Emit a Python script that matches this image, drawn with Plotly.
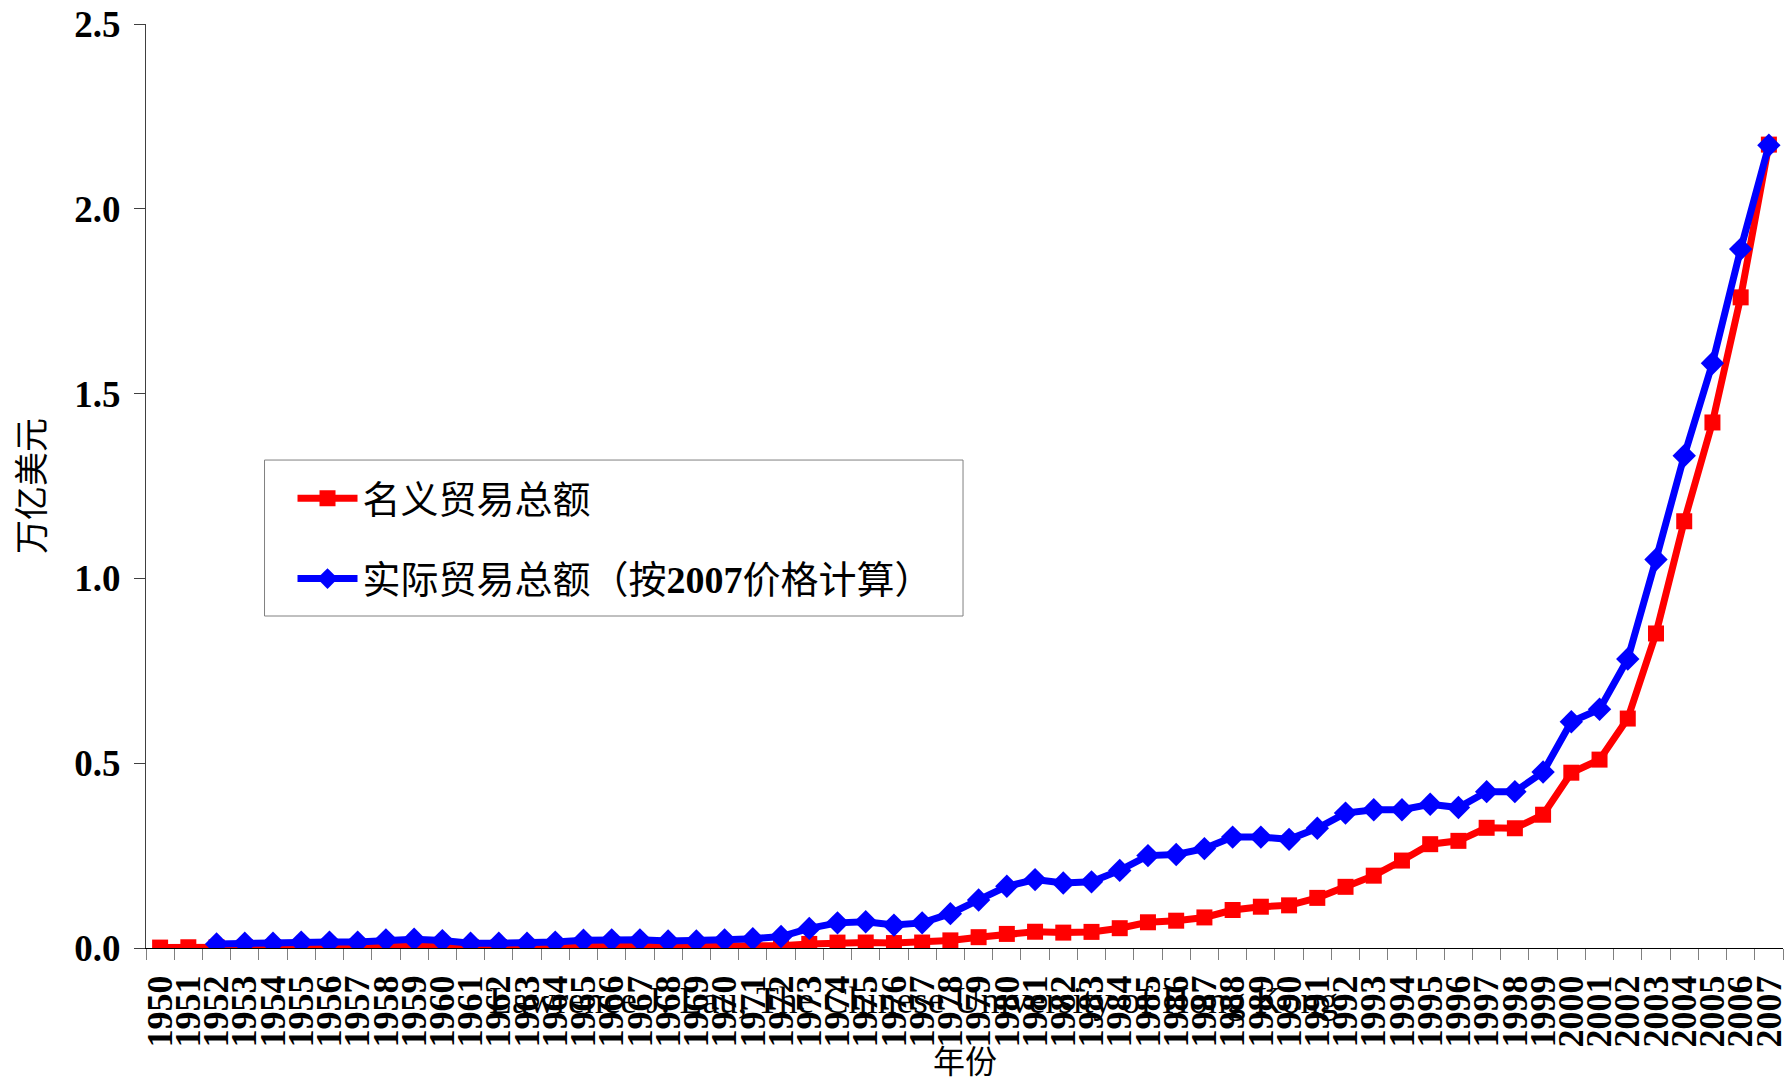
import plotly.graph_objects as go

years = [str(y) for y in range(1950, 2008)]

# 名义贸易总额, 万亿美元
nominal = [
    0.0011, 0.0020, 0.0019, 0.0024, 0.0024, 0.0031, 0.0032, 0.0031, 0.0039, 0.0044,
    0.0038, 0.0029, 0.0027, 0.0029, 0.0035, 0.0043, 0.0046, 0.0042, 0.0041, 0.0040,
    0.0046, 0.0048, 0.0063, 0.0110, 0.0146, 0.0148, 0.0134, 0.0148, 0.0206, 0.0293,
    0.0381, 0.0440, 0.0416, 0.0436, 0.0536, 0.0696, 0.0739, 0.0827, 0.1028, 0.1117,
    0.1154, 0.1356, 0.1655, 0.1957, 0.2366, 0.2809, 0.2899, 0.3252, 0.3240, 0.3606,
    0.4743, 0.5097, 0.6208, 0.8510, 1.1546, 1.4219, 1.7604, 2.1737,
]

# 实际贸易总额（按2007价格计算）, 万亿美元
real = [
    None, None, 0.011, 0.013, 0.013, 0.016, 0.016, 0.016, 0.022, 0.024,
    0.020, 0.013, 0.013, 0.013, 0.016, 0.021, 0.022, 0.022, 0.019, 0.019,
    0.022, 0.025, 0.031, 0.053, 0.068, 0.071, 0.062, 0.068, 0.093, 0.130,
    0.167, 0.185, 0.176, 0.179, 0.210, 0.250, 0.253, 0.269, 0.300, 0.300,
    0.294, 0.324, 0.365, 0.374, 0.374, 0.389, 0.380, 0.423, 0.423, 0.476,
    0.612, 0.646, 0.782, 1.051, 1.332, 1.582, 1.891, 2.172,
]

y_ticks = [0.0, 0.5, 1.0, 1.5, 2.0, 2.5]

SERIF = "Liberation Serif, Times New Roman, serif"
CJK = "Liberation Serif, Noto Sans CJK SC, sans-serif"

fig = go.Figure()
fig.add_trace(go.Scatter(
    x=years, y=nominal, name="名义贸易总额",
    mode="lines+markers", legendgroup="a",
    line=dict(color="#ff0000", width=7),
    marker=dict(symbol="square", size=16, color="#ff0000"),
))
fig.add_trace(go.Scatter(
    x=years, y=real, name="实际贸易总额（按<b>2007</b>价格计算）",
    mode="lines+markers", legendgroup="b",
    line=dict(color="#0000ff", width=7),
    marker=dict(symbol="diamond", size=18, color="#0000ff"),
))

# legend frame drawn separately so its size matches the original box
fig.add_shape(
    type="rect", xref="paper", yref="paper",
    x0=0.0724, x1=0.4991, y0=0.3593, y1=0.5281,
    line=dict(color="#808080", width=1), fillcolor="white", layer="below",
)

fig.update_layout(
    width=1789, height=1083,
    margin=dict(l=146, r=0, t=24, b=135),
    plot_bgcolor="white", paper_bgcolor="white",
    showlegend=True,
    legend=dict(
        x=0.0895, y=0.5206, xanchor="left", yanchor="top",
        borderwidth=0, bgcolor="rgba(0,0,0,0)",
        font=dict(family=CJK, size=38, color="black"),
        tracegroupgap=28, itemwidth=60,
    ),
    annotations=[
        dict(text="万亿美元", xref="paper", yref="paper", x=0, y=0.5,
             xshift=-114, xanchor="center", yanchor="middle",
             textangle=-90, showarrow=False,
             font=dict(family=CJK, size=34, color="black")),
        dict(text="年份", xref="paper", yref="paper", x=0.5, y=0,
             yshift=-114, xanchor="center", yanchor="middle", showarrow=False,
             font=dict(family=CJK, size=32, color="black")),
        dict(text="Lawrence J. Lau, The Chinese University of Hong Kong",
             xref="paper", yref="paper", x=0.469, y=0, yshift=-52,
             xanchor="center", yanchor="middle", showarrow=False,
             font=dict(family=SERIF, size=37.5, color="black")),
    ],
)
fig.update_xaxes(
    type="category", range=[-0.5, len(years) - 0.5],
    tickmode="linear", dtick=1, tickangle=-90,
    tickson="boundaries", ticks="outside", ticklen=11, tickcolor="#808080",
    showline=True, linecolor="black", linewidth=1, showgrid=False,
    tickfont=dict(family=SERIF, size=36, color="black", weight="bold"),
    ticklabelstandoff=12,
)
fig.update_yaxes(
    range=[0, 2.5], tickvals=y_ticks, tickformat=".1f",
    ticks="outside", ticklen=11, tickcolor="#404040",
    showline=True, linecolor="#404040", linewidth=1, showgrid=False, zeroline=False,
    tickfont=dict(family=SERIF, size=37, color="black", weight="bold"),
    ticklabelstandoff=6,
)

fig.write_html(
    "out.html",
    config={"displayModeBar": False},
    post_script="document.body.style.margin='0px';",
)
